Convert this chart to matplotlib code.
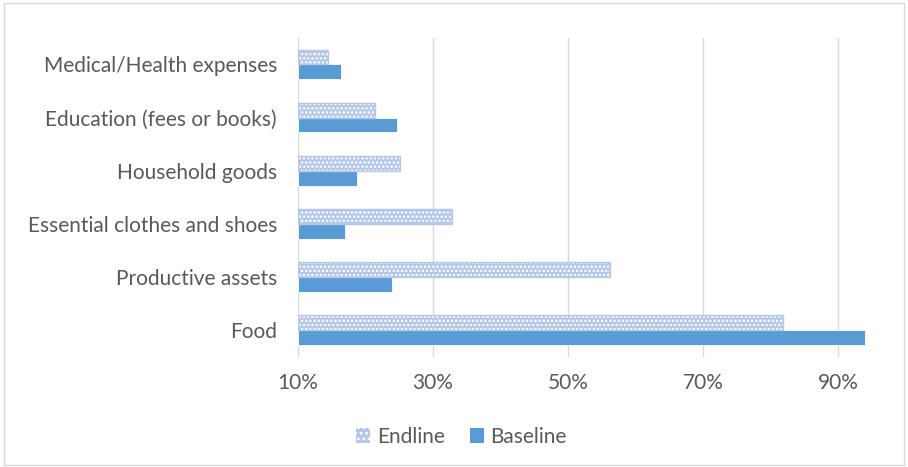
import matplotlib.pyplot as plt
from matplotlib.patches import Patch, Rectangle
from matplotlib.ticker import FuncFormatter

categories = ["Food", "Productive assets", "Essential clothes and shoes",
              "Household goods", "Education (fees or books)", "Medical/Health expenses"]
endline = [81.9, 56.2, 32.8, 25.1, 21.4, 14.4]
baseline = [94.0, 23.9, 17.0, 18.7, 24.7, 16.4]
xticks = [10, 30, 50, 70, 90]

ENDLINE_C = "#B4C7E7"
BASELINE_C = "#5B9BD5"
TXT = "#595959"
GRID = "#D9D9D9"

plt.rcParams["font.family"] = ["Lato", "DejaVu Sans"]
plt.rcParams["hatch.linewidth"] = 1.2

fig = plt.figure(figsize=(9.08, 4.67), dpi=100)
ax = fig.add_axes([0.328, 0.236, 0.632, 0.683])

y = list(range(len(categories)))
h = 0.28
y_end = [v + h / 2 for v in y]
y_base = [v - h / 2 for v in y]

left = xticks[0]
ax.barh(y_end, [e - left for e in endline], left=left, height=h,
        color=ENDLINE_C, edgecolor="white", hatch="....", linewidth=0, zorder=3)
ax.barh(y_end, [e - left for e in endline], left=left, height=h,
        fill=False, edgecolor=ENDLINE_C, linewidth=1.0, zorder=4)
ax.barh(y_base, [b - left for b in baseline], left=left, height=h,
        color=BASELINE_C, edgecolor="white", linewidth=0.6, zorder=3)

ax.set_xlim(10, 95)
ax.set_ylim(-0.5, len(categories) - 0.5)
ax.set_xticks(xticks)
ax.xaxis.set_major_formatter(FuncFormatter(lambda v, p: f"{v:.0f}%"))
ax.set_yticks(y)
ax.set_yticklabels(categories)
ax.tick_params(axis="both", length=0, colors=TXT, labelsize=15)
ax.tick_params(axis="x", pad=12)
ax.tick_params(axis="y", pad=15)
ax.grid(axis="x", color=GRID, linewidth=1.0, zorder=0)
for s in ax.spines.values():
    s.set_visible(False)

handles = [
    Patch(facecolor=ENDLINE_C, edgecolor="white", hatch="...", linewidth=0),
    Patch(facecolor=BASELINE_C),
]
fig.legend(handles, ["Endline", "Baseline"], loc="center", bbox_to_anchor=(0.508, 0.065),
           ncol=2, frameon=False, fontsize=15, labelcolor=TXT,
           handlelength=0.7, handleheight=0.7, handletextpad=0.3, columnspacing=1.2)

fig.patches.append(Rectangle((0.004, 0.004), 0.992, 0.99, transform=fig.transFigure,
                             fill=False, edgecolor="#D9D9D9", linewidth=1.0))

fig.savefig("out.png", dpi=100, facecolor="white")
